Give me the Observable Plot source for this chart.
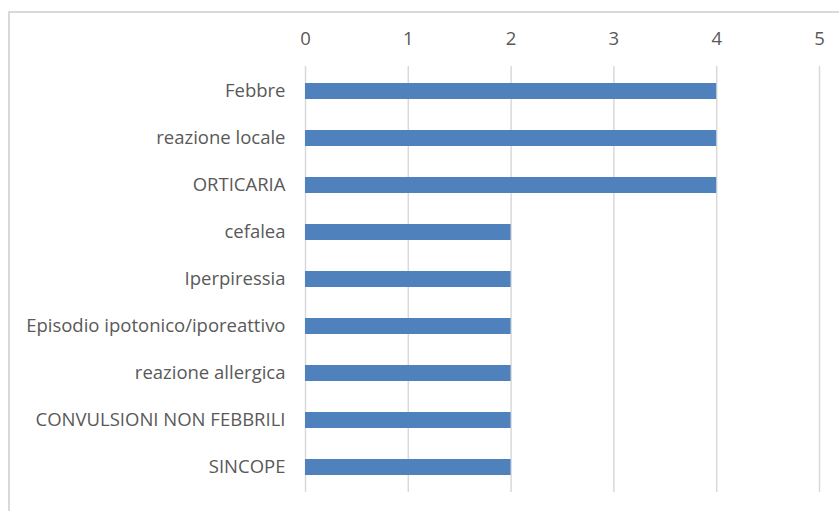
<!DOCTYPE html>
<html>
<head>
<meta charset="utf-8">
<script src="https://cdn.jsdelivr.net/npm/d3@7"></script>
<script src="https://cdn.jsdelivr.net/npm/@observablehq/plot@0.6"></script>
<style>
  html, body { margin: 0; padding: 0; background: #fff; }
  #wrap { position: relative; width: 839px; height: 511px; overflow: hidden; }
  #border { position: absolute; left: 8px; top: 11px; width: 900px; height: 600px;
            border-left: 2px solid #d9d9d9; border-top: 2px solid #d9d9d9; pointer-events: none; }
</style>
</head>
<body>
<div id="wrap"><div id="border"></div></div>
<script>
const categories = [
  "Febbre",
  "reazione locale",
  "ORTICARIA",
  "cefalea",
  "Iperpiressia",
  "Episodio ipotonico/iporeattivo",
  "reazione allergica",
  "CONVULSIONI NON FEBBRILI",
  "SINCOPE"
];
const values = [4, 4, 4, 2, 2, 2, 2, 2, 2];
const xTicks = [0, 1, 2, 3, 4, 5];

const data = categories.map((c, i) => ({ category: c, value: values[i] }));

const chart = Plot.plot({
  width: 839,
  height: 511,
  marginLeft: 305,
  marginRight: 20,
  marginTop: 66,
  marginBottom: 19,
  style: { fontFamily: "'Open Sans', sans-serif", fontSize: "18.5px", color: "#595959", background: "transparent" },
  x: { domain: [0, 5], ticks: xTicks },
  y: { domain: categories, paddingInner: 0.66, paddingOuter: 0.33 },
  marks: [
    Plot.gridX(xTicks, { stroke: "#d9d9d9", strokeOpacity: 1, strokeWidth: 1.5 }),
    Plot.barX(data, { x: "value", y: "category", fill: "#4f81bd" }),
    Plot.axisX({ anchor: "top", ticks: xTicks, tickFormat: "d", tickSize: 0, tickPadding: 22, label: null, fill: "#595959" }),
    Plot.axisY({ tickSize: 0, tickPadding: 20, label: null, fill: "#595959" })
  ]
});
document.getElementById("wrap").prepend(chart);
chart.style.position = "absolute";
chart.style.left = "0";
chart.style.top = "0";
</script>
</body>
</html>
